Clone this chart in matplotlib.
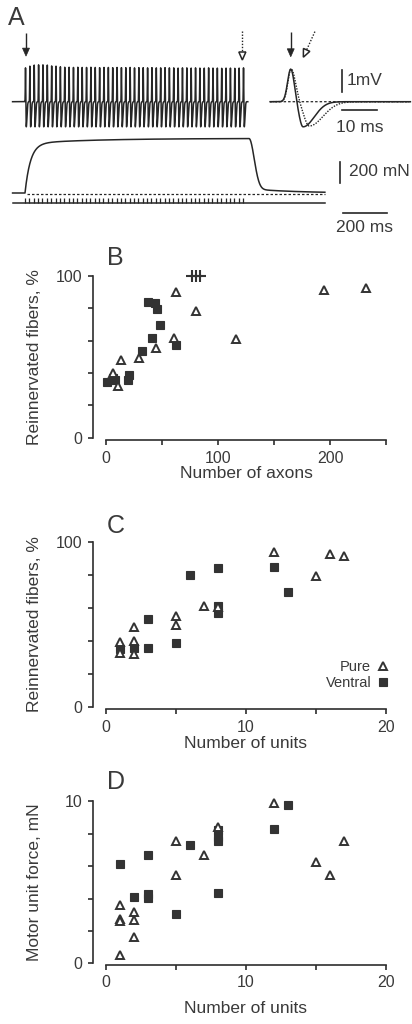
import numpy as np
import matplotlib
matplotlib.use("Agg")
import matplotlib.pyplot as plt
from matplotlib.patches import Polygon

# ---------------- data ----------------
# Panel A: stimulation train (50 Hz, 51 pulses) and EMG spike peak amplitudes (mV)
STIM_INTERVAL_MS = 20.0
N_STIM = 51
SPIKE_PEAK_MV = [1.58, 1.66, 1.71, 1.72, 1.72, 1.71, 1.67, 1.66, 1.63, 1.61,
                 1.61, 1.60, 1.61, 1.60, 1.60, 1.61, 1.60, 1.59, 1.60, 1.60,
                 1.59, 1.60, 1.59, 1.59, 1.60, 1.58, 1.59, 1.59, 1.58, 1.59,
                 1.58, 1.58, 1.59, 1.58, 1.58, 1.57, 1.58, 1.58, 1.57, 1.58,
                 1.57, 1.57, 1.58, 1.57, 1.57, 1.56, 1.57, 1.57, 1.56, 1.57, 1.58]
SPIKE_TROUGH_MV = 1.17
FORCE_PLATEAU_MN = [470.0, 50.0]      # fast and slow components
FORCE_TAU_MS = [25.0, 300.0]
FORCE_OFF_MS = 1028.0

# Panel B
B_pure_x = [62.5, 80, 195, 232, 116, 60.7, 44.6, 29.7, 13.4, 6.5, 11]
B_pure_y = [90.3, 78.5, 91.3, 92.4, 60.8, 61.5, 55.3, 49.1, 48, 39.8, 32.2]
B_ventral_x = [37.2, 43.8, 45.3, 48.2, 40.8, 31.9, 62.5, 20.8, 19.9, 0.6, 8, 6]
B_ventral_y = [84.1, 83.1, 79.4, 69.7, 61.5, 53.8, 57.3, 38.8, 35.7, 34.6, 35.7, 37]
B_other_x = [77, 80.5, 84]
B_other_y = [100, 100, 100]

# Panel C
C_pure_x = [1, 1, 2, 2, 2, 5, 5, 7, 8, 12, 15, 16, 17]
C_pure_y = [39.4, 32.3, 48.5, 40, 31.9, 55.2, 49.5, 61.2, 60.6, 93.5, 79.2, 92.5, 91.5]
C_ventral_x = [1, 2, 3, 3, 5, 6, 8, 8, 8, 12, 13]
C_ventral_y = [35, 35.4, 52.9, 35.4, 38.8, 79.8, 83.8, 61, 56.6, 84.8, 69.7]

# Panel D
D_pure_x = [1, 1, 1, 1, 2, 2, 2, 5, 5, 7, 8, 12, 15, 16, 17]
D_pure_y = [0.53, 3.62, 2.74, 2.6, 3.15, 2.67, 1.65, 7.53, 5.47, 6.71, 8.44, 9.9, 6.23, 5.47, 7.57]
D_ventral_x = [1, 2, 3, 3, 3, 5, 6, 8, 8, 8, 8, 12, 13]
D_ventral_y = [6.13, 4.07, 6.69, 4.05, 4.25, 3.05, 7.33, 8.2, 7.8, 7.55, 4.32, 8.29, 9.79]

# ---------------- style ----------------
plt.rcParams['font.family'] = ['Liberation Sans', 'DejaVu Sans']
TXT = '#3a3a3a'
INK = '#262626'
MK = '#333333'
SP = '#2e2e2e'

W, H = 412, 1024
fig = plt.figure(figsize=(W / 100, H / 100), dpi=100)


def px_axes(x0, y0, x1, y1):
    return fig.add_axes([x0 / W, 1 - y1 / H, (x1 - x0) / W, (y1 - y0) / H])


def agauss(t, mu, sl, sr):
    s = np.where(t < mu, sl, sr)
    return np.exp(-0.5 * ((t - mu) / s) ** 2)


def muap(t, pos, tp, spl, spr, neg, tn, snl, snr):
    return pos * agauss(t, tp, spl, spr) - neg * agauss(t, tn, snl, snr)


def arrow(ax, p0, p1, dotted=False, head_len=8.0, head_w=7.0):
    T = ax.transData
    a = T.transform(p0)
    b = T.transform(p1)
    d = b - a
    u = d / np.hypot(*d)
    n = np.array([-u[1], u[0]])
    base = b - u * head_len
    end = base if dotted else base + u * 2
    pts = T.inverted().transform(np.array([a, end]))
    ax.plot(pts[:, 0], pts[:, 1], color=INK, lw=1.0,
            linestyle=(0, (1.0, 1.2)) if dotted else '-', solid_capstyle='butt')
    tri = T.inverted().transform(np.array([b, base + n * head_w / 2, base - n * head_w / 2]))
    ax.add_patch(Polygon(tri, closed=True, fc='white' if dotted else INK, ec=INK,
                         lw=1.1 if dotted else 0.5, joinstyle='miter'))


# ---------------- Panel A ----------------
PX_MS = 0.218     # px per ms on the long traces
T0 = 25.0         # px position of first stimulus
MV_PX = 21.5      # px per mV
BASE_EMG = 101.7  # px of EMG baseline

stim_t = np.arange(N_STIM) * STIM_INTERVAL_MS

ax_emg = px_axes(0, 25, 412, 140)
ax_emg.set_xlim(-T0 / PX_MS, (412 - T0) / PX_MS)
ax_emg.set_ylim(-(140 - BASE_EMG) / MV_PX, (BASE_EMG - 25) / MV_PX)
ax_emg.axis('off')

t = np.arange(-57, 1022, 0.05)
v = np.zeros_like(t)
for ti, a in zip(stim_t, SPIKE_PEAK_MV):
    v += muap(t - ti, a, 2.3, 0.9, 1.0, SPIKE_TROUGH_MV, 5.8, 1.1, 3.2)
ax_emg.plot(t, v, color=INK, lw=1.1)
arrow(ax_emg, (4.6, 3.2), (4.6, 2.12))
arrow(ax_emg, (997, 3.3), (997, 1.94), dotted=True)

# MUAP inset
MS_PX = 3.5
T0m = 282.7
ax_mu = px_axes(262, 25, 412, 140)
ax_mu.set_xlim((262 - T0m) / MS_PX, (412 - T0m) / MS_PX)
ax_mu.set_ylim(-(140 - BASE_EMG) / MV_PX, (BASE_EMG - 25) / MV_PX)
ax_mu.axis('off')
tm = np.arange(-3.6, 36.5, 0.02)
ax_mu.plot(tm, np.zeros_like(tm), color=INK, lw=0.9, dashes=(2.0, 1.6))
ax_mu.plot(tm, muap(tm, 1.53, 2.4, 0.9, 1.25, 1.13, 7.6, 1.5, 3.9),
           color=INK, lw=1.0, linestyle=(0, (1.0, 1.0)))
ax_mu.plot(tm, muap(tm, 1.52, 2.3, 0.9, 1.0, 1.17, 5.8, 1.1, 3.2), color=INK, lw=1.1)
arrow(ax_mu, (2.3, 3.26), (2.3, 2.09))
arrow(ax_mu, (9.2, 3.26), (5.9, 2.07), dotted=True)
ax_mu.plot([16.9, 16.9], [0.47, 1.47], color=INK, lw=1.2)
ax_mu.text(18.4, 0.97, '1mV', fontsize=12.5, color=TXT, ha='left', va='center')
ax_mu.plot([16.9, 26.9], [-0.39, -0.39], color=INK, lw=1.2)
ax_mu.text(21.9, -1.22, '10 ms', fontsize=12.5, color=TXT, ha='center', va='center')

# Force + stimulus
MN_PX = 0.105
BASE_F = 193.0
ax_f = px_axes(0, 130, 412, 245)
ax_f.set_xlim(-T0 / PX_MS, (412 - T0) / PX_MS)
ax_f.set_ylim(-(245 - BASE_F) / MN_PX, (BASE_F - 130) / MN_PX)
ax_f.axis('off')
tf = np.arange(-57, 1376, 0.5)
tpos = np.clip(tf, 0, None)
rise = np.where(tf > 0, FORCE_PLATEAU_MN[0] * (1 - np.exp(-tpos / FORCE_TAU_MS[0]))
                + FORCE_PLATEAU_MN[1] * (1 - np.exp(-tpos / FORCE_TAU_MS[1])), 0.0)
f_end = FORCE_PLATEAU_MN[0] * (1 - np.exp(-FORCE_OFF_MS / FORCE_TAU_MS[0])) + \
    FORCE_PLATEAU_MN[1] * (1 - np.exp(-FORCE_OFF_MS / FORCE_TAU_MS[1]))
dt = tf - FORCE_OFF_MS
fall = f_end * (0.92 * np.exp(-(dt / 33.0) ** 2) + 0.08 * np.exp(-np.clip(dt, 0, None) / 200.0))
force = np.where(tf < FORCE_OFF_MS, rise, fall)
ax_f.plot(tf, force, color=INK, lw=1.1)
ax_f.plot([9, 1376], [-12, -12], color=INK, lw=0.9, dashes=(2.0, 1.6))
ax_f.plot([-57, 1376], [-95, -95], color=INK, lw=1.1)
ax_f.vlines(stim_t, -95, -50, color=INK, lw=0.9)
ax_f.plot([1445, 1445], [100, 300], color=INK, lw=1.2)
ax_f.text(1486, 200, '200 mN', fontsize=12.5, color=TXT, ha='left', va='center')
ax_f.plot([1459, 1659], [-193, -193], color=INK, lw=1.2)
ax_f.text(1559, -327, '200 ms', fontsize=12.5, color=TXT, ha='center', va='center')

# ---------------- Panels B, C, D ----------------
TICK_FS = 11.5
LAB_FS = 12.5
MS = 6.0
LEFT_OFF_PT = 9.6


def style(ax, xlim, ylim, xticks, xlabels, yticks, ylabels, xlabel, ylabel,
          bottom_off_pt, xlab_y):
    ax.set_xlim(*xlim)
    ax.set_ylim(*ylim)
    ax.spines['top'].set_visible(False)
    ax.spines['right'].set_visible(False)
    ax.spines['left'].set_position(('outward', LEFT_OFF_PT))
    ax.spines['bottom'].set_position(('outward', bottom_off_pt))
    for side in ('left', 'bottom'):
        ax.spines[side].set_color(SP)
        ax.spines[side].set_linewidth(1.2)
    ax.set_xticks(xticks)
    ax.set_xticklabels(xlabels)
    ax.set_yticks(yticks)
    ax.set_yticklabels(ylabels)
    ax.tick_params(direction='out', length=3.8, width=1.2, color=SP, labelcolor=TXT,
                   labelsize=TICK_FS, pad=3.8)
    ax.set_xlabel(xlabel, fontsize=LAB_FS, color=TXT)
    ax.set_ylabel(ylabel, fontsize=LAB_FS, color=TXT)
    ax.yaxis.set_label_coords(-0.229, 0.5)
    ax.xaxis.set_label_coords(0.5, xlab_y)
    ax.set_facecolor('none')


def points(ax, px, py, vx, vy):
    ax.plot(vx, vy, 's', ms=MS, color=MK, mec=MK, mew=0.8, linestyle='none',
            clip_on=False, label='Ventral')
    ax.plot(px, py, '^', ms=MS, mfc='white', mec=MK, mew=1.4, linestyle='none',
            clip_on=False, label='Pure')


axB = px_axes(106, 276, 386, 437.7)
style(axB, (0, 250), (0, 100), [0, 50, 100, 150, 200, 250], ['0', '', '100', '', '200', ''],
      [0, 20, 40, 60, 80, 100], ['0', '', '', '', '', '100'],
      'Number of axons', 'Reinnervated fibers, %', 1.7, -0.175)
points(axB, B_pure_x, B_pure_y, B_ventral_x, B_ventral_y)
axB.plot(B_other_x, B_other_y, '+', ms=8, mew=1.5, color=MK, linestyle='none', clip_on=False)

axC = px_axes(106, 541.7, 386, 706.7)
style(axC, (0, 20), (0, 100), [0, 5, 10, 15, 20], ['0', '', '10', '', '20'],
      [0, 20, 40, 60, 80, 100], ['0', '', '', '', '', '100'],
      'Number of units', 'Reinnervated fibers, %', 1.9, -0.178)
points(axC, C_pure_x, C_pure_y, C_ventral_x, C_ventral_y)
h, l = axC.get_legend_handles_labels()
axC.legend(h[::-1], l[::-1], loc='lower right', bbox_to_anchor=(1.015, 0.1), frameon=False,
           markerfirst=False, handlelength=1.0, handletextpad=0.3, labelspacing=0.15,
           borderaxespad=0, borderpad=0, fontsize=10.5, labelcolor=TXT)

axD = px_axes(106, 801.3, 386, 963.3)
style(axD, (0, 20), (0, 10), [0, 5, 10, 15, 20], ['0', '', '10', '', '20'],
      [0, 2, 4, 6, 8, 10], ['0', '', '', '', '', '10'],
      'Number of units', 'Motor unit force, mN', 1.0, -0.235)
points(axD, D_pure_x, D_pure_y, D_ventral_x, D_ventral_y)

# panel letters
for letter, x, yb in [('A', 7.5, 25), ('B', 107, 265), ('C', 107, 533), ('D', 107, 789)]:
    fig.text(x / W, 1 - yb / H, letter, fontsize=18, color=TXT, ha='left', va='baseline')

fig.savefig('out.png', dpi=100)
